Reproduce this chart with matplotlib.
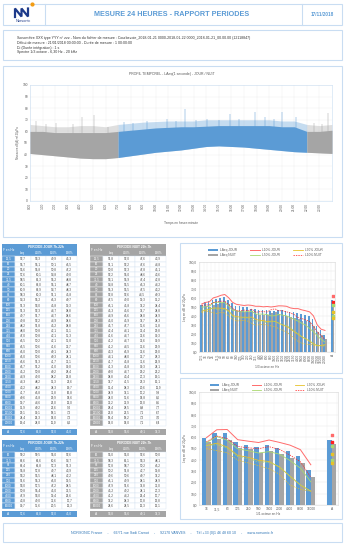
import numpy as np
import matplotlib
matplotlib.use("Agg")
import matplotlib.pyplot as plt
from matplotlib.patches import Rectangle
from matplotlib.lines import Line2D

plt.rcParams['font.family'] = ['Liberation Sans', 'DejaVu Sans']

W, H = 361, 559
BLUE = '#5b9bd5'
GRAY = '#a5a5a5'
BORDER = '#c9ddf2'
TXT = '#404040'
RED = '#ff6b6b'
RED_N = '#ff2020'
GREEN = '#a9d86e'
YELLOW = '#e6c229'

# ---- data : 1/3 octave ----
TIERS = ['12,5', '16', '20', '25', '31,5', '40', '50', '63', '80', '100', '125', '160',
         '200', '250', '315', '400', '500', '630', '800', '1000', '1250', '1600', '2000',
         '2500', '3150', '4000', '5000', '6300', '8000', '10000', '12500', '16000', '20000']
T_DAY_LEQ = [52.7, 55.7, 56.6, 57.6, 58.5, 60.1, 60.9, 58.3, 54.3, 51.3, 51.3, 49.7, 49.8,
             48.2, 48.0, 47.0, 46.5, 46.5, 46.0, 46.0, 46.6, 46.7, 45.2, 44.9, 44.3, 43.2,
             41.7, 40.6, 39.7, 36.9, 29.1, 24.4, 19.4]
T_DAY_L10 = [53.3, 55.1, 55.8, 60.1, 61.3, 63.0, 63.9, 60.3, 55.2, 53.0, 52.3, 51.7, 52.2,
             51.8, 50.8, 50.8, 50.2, 50.6, 50.0, 50.6, 51.3, 51.2, 50.8, 49.0, 48.2, 48.2,
             46.8, 45.8, 44.6, 40.2, 30.1, 25.3, 24.0]
T_DAY_L50 = [49.9, 50.1, 50.8, 54.8, 55.2, 55.1, 54.7, 51.1, 46.3, 45.8, 44.7, 44.7, 44.9,
             45.2, 42.1, 42.1, 42.1, 41.6, 40.1, 40.3, 41.7, 41.0, 40.2, 38.2, 36.3, 34.3,
             31.8, 29.9, 26.0, 22.6, 18.1, 14.0, 11.0]
T_DAY_L90 = [45.3, 46.5, 47.2, 49.0, 48.8, 48.7, 48.3, 45.8, 40.7, 39.3, 38.8, 38.6, 38.6,
             38.8, 36.1, 35.3, 35.0, 33.7, 34.3, 34.1, 32.1, 30.0, 28.4, 25.8, 22.6, 19.7,
             16.8, 14.6, 12.0, 9.2, 7.2, 7.2, 8.2]
T_NIGHT_LEQ = [51.8, 51.1, 50.0, 52.2, 53.1, 54.8, 55.3, 52.8, 47.5, 46.1, 45.3, 44.9, 45.0,
               45.7, 42.4, 41.6, 41.2, 41.2, 43.3, 44.1, 41.7, 41.3, 40.0, 38.8, 37.7, 36.4,
               34.9, 34.0, 33.2, 28.4, 22.0, 18.4, 14.0]
T_NIGHT_L10 = [52.0, 52.2, 52.3, 55.0, 55.9, 56.5, 56.5, 52.6, 49.0, 45.8, 45.6, 46.6, 45.9,
               47.7, 44.1, 44.7, 44.7, 44.5, 46.9, 48.0, 45.8, 45.8, 44.7, 43.4, 41.5, 38.3,
               37.1, 35.6, 33.9, 28.5, 22.5, 18.2, 14.0]
T_NIGHT_L50 = [47.6, 47.6, 47.8, 48.6, 47.4, 46.3, 47.5, 44.5, 39.3, 37.2, 37.7, 38.0, 37.7,
               35.6, 33.4, 33.6, 33.6, 32.6, 33.6, 33.7, 31.6, 30.3, 29.2, 27.3, 23.3, 20.6,
               17.2, 14.8, 13.0, 8.8, 7.1, 7.2, 7.1]
T_NIGHT_L90 = [43.9, 44.8, 45.1, 43.6, 42.8, 44.2, 43.2, 40.3, 36.2, 34.4, 34.8, 34.9, 34.3,
               31.8, 29.8, 30.3, 30.9, 29.9, 29.0, 28.3, 25.9, 24.1, 22.2, 19.1, 15.1, 11.9,
               9.9, 8.6, 8.5, 7.7, 6.7, 7.0, 6.4]

# ---- data : octave ----
OCT = ['16', '31,5', '63', '125', '250', '500', '1000', '2000', '4000', '8000', '16000']
O_DAY_LEQ = [59.2, 63.6, 63.4, 55.8, 53.2, 51.6, 53.0, 50.8, 47.9, 43.8, 30.7]
O_DAY_L10 = [59.5, 66.6, 66.8, 57.8, 56.5, 55.3, 57.5, 55.4, 53.0, 49.0, 35.6]
O_DAY_L50 = [55.0, 60.6, 57.3, 49.7, 48.1, 46.0, 47.2, 45.0, 39.4, 32.6, 20.5]
O_DAY_L90 = [52.6, 54.7, 51.3, 43.9, 42.2, 39.5, 38.5, 33.5, 25.6, 17.7, 12.3]
O_NIGHT_LEQ = [56.0, 58.3, 57.8, 50.2, 49.6, 46.1, 47.9, 45.2, 41.2, 37.2, 24.6]
O_NIGHT_L10 = [56.0, 61.1, 58.7, 51.8, 50.6, 49.9, 51.6, 49.2, 44.2, 38.3, 24.5]
O_NIGHT_L50 = [52.6, 53.3, 50.2, 42.7, 40.7, 38.1, 37.8, 34.1, 25.4, 17.8, 12.3]
O_NIGHT_L90 = [50.0, 48.1, 46.2, 39.8, 37.2, 34.9, 32.0, 27.3, 17.7, 13.8, 12.1]

# global A values: Leq, L10, L50, L90
A_DAY = [57.6, 62.0, 52.0, 45.0]
A_NIGHT = [53.8, 55.6, 40.1, 37.3]

# ---- data : time profile (envelopes read per hour, spikes) ----
ENV_T = list(range(25))
ENV_LOW = [41, 40, 39, 38, 37, 36.5, 36.5, 37.5, 39, 40.5, 42, 43, 44, 45.5, 47, 47.5,
           47, 46.5, 45.5, 44.5, 43.5, 42.5, 42, 41.5, 41]
ENV_TOP = [60, 60, 59, 59, 59, 59, 59, 60, 61, 62, 63, 63.5, 64, 64, 64.5, 65, 65, 65, 65,
           65, 64, 64, 60, 60, 61]
ENV_HIGH = [66, 65, 64, 64, 65, 65, 64, 66, 67, 68, 68.5, 69, 69, 69, 70, 70, 70, 70, 70,
            70, 69, 69, 66, 65, 66]
SPIKE_T = [0.5, 1.3, 2.1, 3.4, 4.1, 5.1, 6.2, 7.5, 8.2, 9.3, 10.9, 11.6, 12.3, 13.2, 14.1,
           15.0, 15.9, 16.6, 17.9, 18.7, 19.4, 20.0, 21.1, 22.6, 23.2, 23.7]
SPIKE_LVL = [69, 66, 67, 66, 72, 74, 64, 68, 67, 69, 71, 69, 79, 70, 71, 70, 75, 71, 77, 72,
             71, 77, 72, 67, 66, 76]
HOUR_LABELS = [f"{h}:00" for h in range(24)]

INFO = [
    "Sonomètre XXX type YYY n° zzz - Nom du fichier de mesure : Courbevoie_2018-01-21 0000-2018-01-22 0000_2018-01-21_00.00.00 (12118847)",
    "Début de mesure : 21/01/2018 00:00:00 - Durée de mesure : 1 00:00:00",
    "Di (Durée intégration) : 1 s",
    "Spectre 1/3 octave - 6,30 Hz - 20 kHz",
]
FOOTER = ("NORSONIC France     -     66/71 rue Sadi Carnot     -     92170 VANVES     -     "
          "Tél +33 (0)1 46 48 60 10     -     www.norsonic.fr")


def fmt(v):
    return f"{v:.1f}".replace('.', ',')


def px_axes(fig, left, top, right, bottom):
    return fig.add_axes([left / W, 1 - bottom / H, (right - left) / W, (bottom - top) / H])


def box(ax, x0, y0, x1, y1):
    ax.add_patch(Rectangle((x0, y0), x1 - x0, y1 - y0, fill=False, ec=BORDER, lw=0.8))


def draw_table(ax, x0, x1, y_head, head_h, row_c0, row_h, labels, cols, a_vals, a_c,
               color, title):
    fw = 13
    cw = (x1 - x0 - fw) / 4
    ax.add_patch(Rectangle((x0, y_head), x1 - x0, head_h, fc=color, ec='none'))
    ax.text(x0 + fw / 2, y_head + head_h / 2, "F en Hz", color='white', fontsize=2.3,
            ha='center', va='center')
    ax.text(x0 + fw + 2 * cw, y_head + head_h * 0.28, title, color='white', fontsize=2.3,
            ha='center', va='center', fontweight='bold')
    for j, name in enumerate(["Leq", "L10%", "L50%", "L90%"]):
        ax.text(x0 + fw + (j + 0.5) * cw, y_head + head_h * 0.75, name, color='white',
                fontsize=2.2, ha='center', va='center')
    for i, lab in enumerate(labels):
        yt = row_c0 + i * row_h - row_h / 2
        ax.add_patch(Rectangle((x0, yt), fw, row_h, fc=color, ec='white', lw=0.3))
        ax.text(x0 + fw / 2, yt + row_h / 2, lab, color='white', fontsize=2.2,
                ha='center', va='center')
        for j, col in enumerate(cols):
            ax.add_patch(Rectangle((x0 + fw + j * cw, yt), cw, row_h, fc='white',
                                   ec='#d5e3f2', lw=0.3))
            ax.text(x0 + fw + (j + 0.5) * cw, yt + row_h / 2, fmt(col[i]), color=TXT,
                    fontsize=2.2, ha='center', va='center')
    ah = 5.5
    ax.add_patch(Rectangle((x0, a_c - ah / 2), x1 - x0, ah, fc=color, ec='none'))
    ax.text(x0 + fw / 2, a_c, "A", color='white', fontsize=2.3, ha='center', va='center')
    for j, v in enumerate(a_vals):
        ax.text(x0 + fw + (j + 0.5) * cw, a_c, fmt(v), color='white', fontsize=2.2,
                ha='center', va='center')


def style_axes(ax):
    for s in ax.spines.values():
        s.set_color('#d9d9d9')
        s.set_linewidth(0.4)
    ax.tick_params(length=0, pad=1.5, labelsize=2.3, colors='#595959')


def spectrum_chart(fig, bg, rect, labels, d_leq, n_leq, d10, d50, d90, n10, n50, n90,
                   xlabel, xlabel_y, legend_y, rot):
    left, top, right, bottom = rect
    ax = px_axes(fig, left, top, right, bottom)
    n = len(labels)
    x = np.arange(n)
    xa = n + 1
    bw = 0.42
    ax.bar(x - bw / 2, d_leq, bw, color=BLUE, zorder=2)
    ax.bar(x + bw / 2, n_leq, bw, color=GRAY, zorder=2)
    ax.bar(xa - bw / 2, A_DAY[0], bw, color=BLUE, zorder=2)
    ax.bar(xa + bw / 2, A_NIGHT[0], bw, color=GRAY, zorder=2)
    ax.plot(x, d10, color=RED, lw=0.7, zorder=3)
    ax.plot(x, d50, color=GREEN, lw=0.6, zorder=3)
    ax.plot(x, d90, color=YELLOW, lw=0.6, zorder=3)
    ax.plot(x, n10, color=RED_N, lw=0.5, ls=(0, (2, 1.5)), zorder=3)
    ax.plot(x, n50, color=GREEN, lw=0.5, ls=(0, (2, 1.5)), zorder=3)
    ax.plot(x, n90, color=YELLOW, lw=0.5, ls=(0, (2, 1.5)), zorder=3)
    ax.scatter([xa, xa], [A_DAY[1], A_NIGHT[1]], color=[RED, RED_N], s=1.5, marker='s', zorder=4)
    ax.scatter([xa, xa], [A_DAY[2], A_NIGHT[2]], color=GREEN, s=1.5, marker='s', zorder=4)
    ax.scatter([xa, xa], [A_DAY[3], A_NIGHT[3]], color=YELLOW, s=1.5, marker='s', zorder=4)
    ax.set_xlim(-0.7, xa + 0.6)
    ax.set_ylim(0, 100)
    ax.set_yticks(np.arange(0, 101, 10))
    ax.set_yticklabels([fmt(v) for v in np.arange(0, 101, 10)])
    ax.set_xticks(list(x) + [xa])
    ax.set_xticklabels(labels + ['A'], rotation=rot)
    ax.set_xticks(np.arange(-0.5, xa + 1), minor=True)
    ax.grid(axis='y', color='#e3e3e3', lw=0.3, zorder=0)
    ax.grid(axis='x', which='minor', color='#eeeeee', lw=0.3, zorder=0)
    ax.tick_params(which='minor', length=0)
    style_axes(ax)
    ax.set_ylabel("Leq en dB ref 20µPa", fontsize=2.2, labelpad=1.5, color='#595959')
    bg.text((left + right) / 2, xlabel_y, xlabel, fontsize=2.3, color='#595959',
            ha='center', va='center')
    handles = [
        Rectangle((0, 0), 1, 1, fc=BLUE), Rectangle((0, 0), 1, 1, fc=GRAY),
        Line2D([], [], color=RED, lw=0.7), Line2D([], [], color=GREEN, lw=0.6),
        Line2D([], [], color=YELLOW, lw=0.6), Line2D([], [], color=RED_N, lw=0.5, ls=(0, (2, 1.5))),
    ]
    names = ["LAeq JOUR", "LAeq NUIT", "L10% JOUR", "L50% JOUR", "L90% JOUR", "L10% NUIT"]
    ax.legend(handles, names, loc='upper center', ncol=3, fontsize=2.3, frameon=False,
              handlelength=3, handleheight=0.6, columnspacing=4, labelspacing=0.3,
              bbox_to_anchor=(0.49, (bottom - legend_y) / (bottom - top)),
              labelcolor='#595959')
    return ax


fig = plt.figure(figsize=(W / 100, H / 100), dpi=100)
bg = fig.add_axes([0, 0, 1, 1])
bg.set_xlim(0, W)
bg.set_ylim(H, 0)
bg.axis('off')

# header
box(bg, 3, 4, 342, 25)
bg.plot([45, 45], [4, 25], color=BORDER, lw=0.8)
bg.plot([302, 302], [4, 25], color=BORDER, lw=0.8)
bg.plot([15, 15, 21.5, 21.5, 28, 28], [17, 8.5, 16.5, 8.5, 16.5, 8.5], color='#1d3a8a',
        lw=1.6, solid_joinstyle='miter')
bg.scatter([32], [3.5], s=4, color='#f39c12')
bg.text(23, 21.5, "Norsonic", fontsize=2.8, color='#1d3a8a', ha='center', va='center')
bg.text(172, 15, "MESURE 24 HEURES - RAPPORT PERIODES", fontsize=5.2, fontweight='bold',
        color=BLUE, ha='center', va='center')
bg.text(322, 15, "17/11/2018", fontsize=3.3, fontweight='bold', color=BLUE,
        ha='center', va='center')

# info box
box(bg, 3, 30, 342, 60)
for k, line in enumerate(INFO):
    bg.text(17, 38 + k * 4.8, line, fontsize=2.6, color='#333333', ha='left', va='center')

# time profile
box(bg, 3, 66, 342, 237)
bg.text(172, 74, "PROFIL TEMPOREL - LAeq(1 seconde) - JOUR / NUIT", fontsize=2.5,
        color='#595959', ha='center', va='center')
axt = px_axes(fig, 30, 85, 332, 201)
t = np.array(ENV_T)
low, top_, high = np.array(ENV_LOW), np.array(ENV_TOP), np.array(ENV_HIGH)
day = (t >= 7) & (t <= 22)
for mask, c in [((t <= 7), GRAY), (day, BLUE), ((t >= 22), GRAY)]:
    axt.fill_between(t[mask], low[mask], high[mask], color=c, alpha=0.35, lw=0, zorder=2)
    axt.fill_between(t[mask], low[mask], top_[mask], color=c, lw=0, zorder=3)
for ts, lv in zip(SPIKE_T, SPIKE_LVL):
    c = BLUE if 7 <= ts < 22 else GRAY
    axt.vlines(ts, 50, lv, color=c, lw=0.35, zorder=3)
axt.set_xlim(0, 24)
axt.set_ylim(0, 100)
axt.set_yticks(np.arange(0, 101, 10))
axt.set_xticks(np.arange(24))
axt.set_xticklabels(HOUR_LABELS, rotation=90)
axt.grid(color='#ececec', lw=0.3, zorder=0)
style_axes(axt)
for s in axt.spines.values():
    s.set_color(BORDER)
axt.set_ylabel("Niveau en dB(A) ref 20µPa", fontsize=2, labelpad=1.5, color='#595959')
bg.text(181, 223, "Temps en heure:minute", fontsize=2.3, color='#595959',
        ha='center', va='center')

# tables 1/3 octave
draw_table(bg, 2, 77, 244, 12, 259, 5.125, TIERS,
           [T_DAY_LEQ, T_DAY_L10, T_DAY_L50, T_DAY_L90], A_DAY, 432, BLUE,
           "PERIODE JOUR 7h-22h")
draw_table(bg, 90, 166, 244, 12, 259, 5.125, TIERS,
           [T_NIGHT_LEQ, T_NIGHT_L10, T_NIGHT_L50, T_NIGHT_L90], A_NIGHT, 432, GRAY,
           "PERIODE NUIT 22h-7h")
# tables octave
draw_table(bg, 2, 77, 440, 12, 455, 5.1, OCT,
           [O_DAY_LEQ, O_DAY_L10, O_DAY_L50, O_DAY_L90], A_DAY, 514, BLUE,
           "PERIODE JOUR 7h-22h")
draw_table(bg, 90, 166, 440, 12, 455, 5.1, OCT,
           [O_NIGHT_LEQ, O_NIGHT_L10, O_NIGHT_L50, O_NIGHT_L90], A_NIGHT, 514, GRAY,
           "PERIODE NUIT 22h-7h")

# spectrum charts
box(bg, 180, 243, 342, 373)
spectrum_chart(fig, bg, (199, 262, 335, 352), TIERS, T_DAY_LEQ, T_NIGHT_LEQ,
               T_DAY_L10, T_DAY_L50, T_DAY_L90, T_NIGHT_L10, T_NIGHT_L50, T_NIGHT_L90,
               "1/3 octave en Hz", 367, 245, 90)
box(bg, 180, 378, 342, 519)
spectrum_chart(fig, bg, (199, 392, 338, 505), OCT, O_DAY_LEQ, O_NIGHT_LEQ,
               O_DAY_L10, O_DAY_L50, O_DAY_L90, O_NIGHT_L10, O_NIGHT_L50, O_NIGHT_L90,
               "1/1 octave en Hz", 514, 380, 0)

# footer
box(bg, 3, 523, 342, 542)
bg.text(172, 533, FOOTER, fontsize=2.6, color='#2e75b6', ha='center', va='center')

fig.savefig("out.png", dpi=100)
